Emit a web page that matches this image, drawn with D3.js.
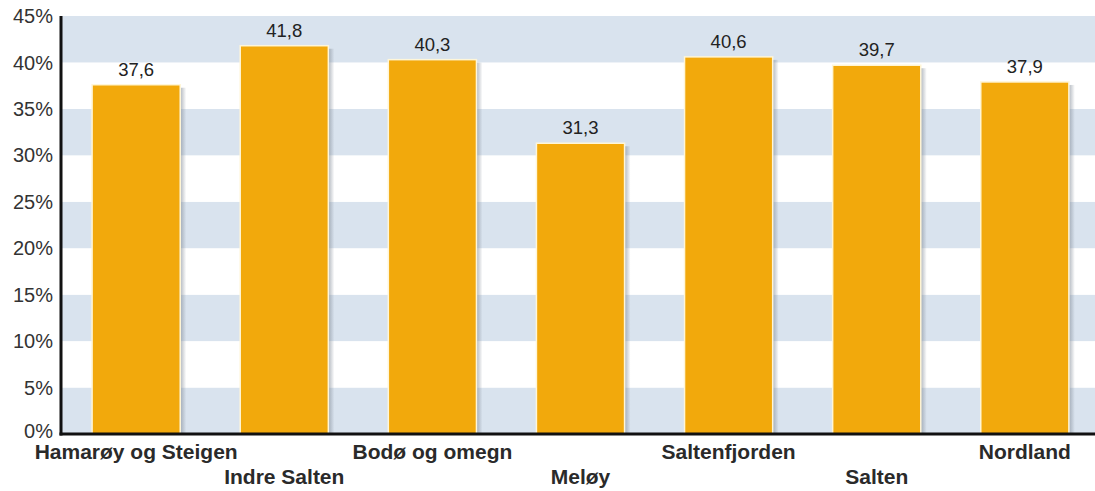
<!DOCTYPE html>
<html><head><meta charset="utf-8">
<script src="https://cdn.jsdelivr.net/npm/d3@7"></script>
<style>body{margin:0;background:#fff;} text{font-family:Arial,"Liberation Sans",sans-serif;}</style>
</head><body>
<svg id="c" width="1095" height="491"></svg>
<script>
const categories = ["Hamarøy og Steigen","Indre Salten","Bodø og omegn","Meløy","Saltenfjorden","Salten","Nordland"];
const values = [37.6, 41.8, 40.3, 31.3, 40.6, 39.7, 37.9];
const yTicks = [0,5,10,15,20,25,30,35,40,45];

const svg = d3.select("#c");
const m = {left:61, top:16, right:1100, bottom:434};
const x = d3.scaleBand().domain(categories).range([m.left, m.right]).paddingInner(0.405).paddingOuter(0.21);
const y = d3.scaleLinear().domain([0,45]).range([m.bottom, m.top]);

// bands
const bands = d3.range(0,45,5);
svg.append("g").selectAll("rect").data(bands).join("rect")
  .attr("x", m.left).attr("width", 1095 - m.left)
  .attr("y", d => y(d+5)).attr("height", d => y(d) - y(d+5))
  .attr("fill", (d,i) => i % 2 === 0 ? "#d9e3ee" : "#ffffff");

// shadows
const grad = svg.append("defs").append("linearGradient").attr("id","sh").attr("x1",0).attr("x2",1);
grad.append("stop").attr("offset",0).attr("stop-color","#7f8894").attr("stop-opacity",0.6);
grad.append("stop").attr("offset",1).attr("stop-color","#7f8894").attr("stop-opacity",0);
svg.append("g").selectAll("rect").data(categories).join("rect")
  .attr("x", d => x(d) + x.bandwidth()).attr("width", 6)
  .attr("y", (d,i) => y(values[i]) + 3).attr("height", (d,i) => m.bottom - y(values[i]) - 3)
  .attr("fill", "url(#sh)");

// bars
svg.append("g").selectAll("rect").data(categories).join("rect")
  .attr("x", d => x(d)).attr("width", x.bandwidth())
  .attr("y", (d,i) => y(values[i])).attr("height", (d,i) => m.bottom - y(values[i]))
  .attr("fill", "#f2a90c").attr("stroke", "#fff6d8").attr("stroke-width", 1.5);

// value labels
svg.append("g").selectAll("text").data(categories).join("text")
  .attr("x", d => x(d) + x.bandwidth()/2).attr("y", (d,i) => y(values[i]) - 9)
  .attr("text-anchor", "middle").attr("font-size", 18.5).attr("fill", "#222")
  .text((d,i) => String(values[i]).replace(".", ","));

// y axis
const yAxis = d3.axisLeft(y).tickValues(yTicks).tickSize(0).tickFormat(d => d + "%");
const gy = svg.append("g").attr("transform", `translate(${m.left - 5},0)`).call(yAxis);
gy.select(".domain").remove();
gy.selectAll("text").attr("font-size", 20).attr("fill", "#333")
  .attr("dy", d => d === 0 ? "0.18em" : "0.33em");

// x axis labels
const xAxis = d3.axisBottom(x).tickSize(0);
const gx = svg.append("g").attr("transform", `translate(0,${m.bottom})`).call(xAxis);
gx.select(".domain").remove();
gx.selectAll("text").attr("font-size", 21).attr("font-weight", "bold").attr("fill", "#2a2a2a")
  .attr("dy", 0).attr("y", (d,i) => i % 2 === 0 ? 25 : 50);

// axis lines
svg.append("line").attr("x1", m.left).attr("x2", m.left).attr("y1", m.top).attr("y2", m.bottom + 1.5)
  .attr("stroke", "#111").attr("stroke-width", 3);
svg.append("line").attr("x1", m.left - 1.5).attr("x2", 1095).attr("y1", m.bottom).attr("y2", m.bottom)
  .attr("stroke", "#111").attr("stroke-width", 3);
</script>
</body></html>
